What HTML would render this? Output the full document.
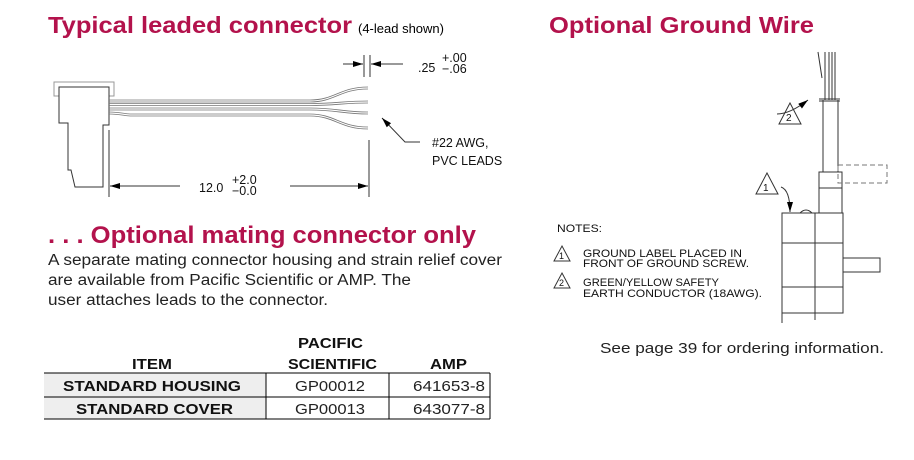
<!DOCTYPE html>
<html><head><meta charset="utf-8"><style>
body{margin:0;background:#fff;}
svg{display:block;font-family:"Liberation Sans",Arial,sans-serif;}
.t{fill:#b3124c;font-weight:bold;}
</style></head><body>
<svg width="914" height="460" viewBox="0 0 914 460" xmlns="http://www.w3.org/2000/svg">
<defs><marker id="a" markerWidth="10" markerHeight="6" refX="10" refY="3" orient="auto"><path d="M0,0 L10,3 L0,6z" fill="#000"/></marker></defs>
<text x="48" y="33" class="t" font-size="23" textLength="304" lengthAdjust="spacingAndGlyphs">Typical leaded connector</text>
<text x="358" y="33" font-size="13">(4-lead shown)</text>
<text x="549" y="33" class="t" font-size="23" textLength="265" lengthAdjust="spacingAndGlyphs">Optional Ground Wire</text>
<text x="48" y="243" class="t" font-size="24" textLength="428" lengthAdjust="spacingAndGlyphs">. . . Optional mating connector only</text>
<g font-size="15.5" fill="#222" lengthAdjust="spacingAndGlyphs">
<text x="48" y="265" textLength="454" lengthAdjust="spacingAndGlyphs">A separate mating connector housing and strain relief cover</text>
<text x="48" y="285" textLength="363" lengthAdjust="spacingAndGlyphs">are available from Pacific Scientific or AMP. The</text>
<text x="48" y="305" textLength="280" lengthAdjust="spacingAndGlyphs">user attaches leads to the connector.</text>
</g>
<!-- connector drawing -->
<g fill="none" stroke="#333" stroke-width="1">
<rect x="54" y="82" width="60" height="14" stroke="#999"/>
<path d="M59,87 H109 V125 H103 V187 H75 L71,170 H68 V123 H59 Z" fill="#fff"/>
<g stroke="#777" stroke-width="0.8">
<path d="M109,100 H310 C335,100 340,87 368,87 M109,102 H310 C335,102 340,89 368,89"/>
<path d="M109,103.5 H310 C335,103.5 345,101 368,101 M109,105.5 H310 C335,105.5 345,103 368,103"/>
<path d="M109,108 H310 C335,108 345,112 368,112 M109,110 H310 C335,110 345,114 368,114"/>
<path d="M109,112 C120,112 125,114 130,114 H310 C335,114 340,127 368,127 M109,114 C120,114 125,116 130,116 H310 C335,116 340,129 368,129"/>
</g>
<path d="M109,130 V197 M369,140 V197 M364,55 V77 M370,55 V77"/>
<path d="M180,186 H110" marker-end="url(#a)"/>
<path d="M290,186 H368" marker-end="url(#a)"/>
<path d="M343,64 H363" marker-end="url(#a)"/>
<path d="M403,64 H371" marker-end="url(#a)"/>
<path d="M420,142 H405 L382,118" marker-end="url(#a)"/>
</g>
<g font-size="12.5" fill="#111">
<text x="199" y="192">12.0</text><text x="232" y="184">+2.0</text><text x="232" y="195">−0.0</text>
<text x="418" y="72">.25</text><text x="442" y="62">+.00</text><text x="442" y="73">−.06</text>
<text x="432" y="147">#22 AWG,</text><text x="432" y="165">PVC LEADS</text>
</g>
<!-- table -->
<rect x="44" y="373" width="222" height="46" fill="#eee"/>
<g stroke="#000" stroke-width="1" fill="none">
<path d="M44,373 H490 M44,397 H490 M44,419 H490 M266,373 V419 M389,373 V419 M490,373 V419"/>
</g>
<g font-size="15" font-weight="bold" fill="#111">
<text x="132" y="369" textLength="40" lengthAdjust="spacingAndGlyphs">ITEM</text>
<text x="298" y="348" textLength="65" lengthAdjust="spacingAndGlyphs">PACIFIC</text>
<text x="288" y="369" textLength="89" lengthAdjust="spacingAndGlyphs">SCIENTIFIC</text>
<text x="430" y="369" textLength="37" lengthAdjust="spacingAndGlyphs">AMP</text>
<text x="63" y="391" textLength="178" lengthAdjust="spacingAndGlyphs">STANDARD HOUSING</text>
<text x="76" y="414" textLength="157" lengthAdjust="spacingAndGlyphs">STANDARD COVER</text>
</g>
<g font-size="15" fill="#222">
<text x="295" y="391" textLength="70" lengthAdjust="spacingAndGlyphs">GP00012</text>
<text x="413" y="391" textLength="72" lengthAdjust="spacingAndGlyphs">641653-8</text>
<text x="295" y="414" textLength="70" lengthAdjust="spacingAndGlyphs">GP00013</text>
<text x="413" y="414" textLength="72" lengthAdjust="spacingAndGlyphs">643077-8</text>
</g>
<!-- motor drawing -->
<g fill="none" stroke="#333" stroke-width="1">
<path d="M825,52 V100 M829,52 V100 M832,52 V100 M835,52 V100 M818,52 L822,78"/>
<path d="M819,99 H840 M819,101 H840"/>
<path d="M823,100 V172 M838,100 V172"/>
<path d="M819,213 V172 H842 V213 M819,188 H842"/>
<rect x="838" y="165" width="49" height="18" stroke-dasharray="5,3" stroke="#777"/>
<rect x="782" y="213" width="61" height="100"/>
<path d="M782,313 V323 M815,213 V320 M782,243 H843 M782,287 H843"/>
<rect x="843" y="258" width="37" height="14"/>
<path d="M800,213 Q806,207 812,213"/>
<path d="M777,114 Q790,114 808,100" marker-end="url(#a)"/>
<path d="M781,187 Q790,190 790,212" marker-end="url(#a)"/>
<path d="M790,103 L801,124 H779 Z"/>
<path d="M767,173 L778,194 H756 Z"/>
<path d="M562,246 L570,261 H554 Z M562,273 L570,288 H554 Z"/>
</g>
<g font-size="11" fill="#111">
<text x="786" y="121" font-size="10">2</text><text x="763" y="191" font-size="10">1</text>
<text x="559" y="259" font-size="9">1</text><text x="559" y="286" font-size="9">2</text>
<text x="557" y="232" textLength="45" lengthAdjust="spacingAndGlyphs">NOTES:</text>
<text x="583" y="257" textLength="159" lengthAdjust="spacingAndGlyphs">GROUND LABEL PLACED IN</text>
<text x="583" y="267" textLength="166" lengthAdjust="spacingAndGlyphs">FRONT OF GROUND SCREW.</text>
<text x="583" y="286" textLength="136" lengthAdjust="spacingAndGlyphs">GREEN/YELLOW SAFETY</text>
<text x="583" y="297" textLength="179" lengthAdjust="spacingAndGlyphs">EARTH CONDUCTOR (18AWG).</text>
</g>
<text x="600" y="353" font-size="15" fill="#222" textLength="284" lengthAdjust="spacingAndGlyphs">See page 39 for ordering information.</text>
</svg>
</body></html>
